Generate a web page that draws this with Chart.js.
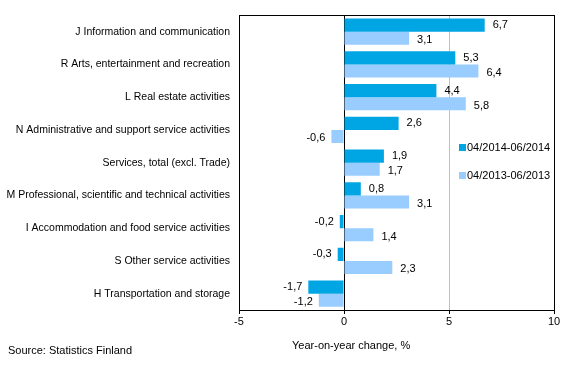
<!DOCTYPE html>
<html>
<head>
<meta charset="utf-8">
<script src="https://cdn.jsdelivr.net/npm/chart.js@4/dist/chart.umd.min.js"></script>
<style>
    html, body { margin: 0; padding: 0; background: #fff; }
    #wrap { width: 569px; height: 374px; position: relative; }
</style>
</head>
<body>
<div id="wrap"><canvas id="chart-services"></canvas></div>
<script>
var categories = [
    "J Information and communication",
    "R Arts, entertainment and recreation",
    "L Real estate activities",
    "N Administrative and support service activities",
    "Services, total (excl. Trade)",
    "M Professional, scientific and technical activities",
    "I Accommodation and food service activities",
    "S Other service activities",
    "H Transportation and storage"
];
var seriesNames = ["04/2014-06/2014", "04/2013-06/2013"];
var values2014 = [6.7, 5.3, 4.4, 2.6, 1.9, 0.8, -0.2, -0.3, -1.7];
var values2013 = [3.1, 6.4, 5.8, -0.6, 1.7, 3.1, 1.4, 2.3, -1.2];
var xTicks = [-5, 0, 5, 10];
var axisTitle = "Year-on-year change, %";
var sourceText = "Source: Statistics Finland";

var FONT = "Liberation Sans, Arial, sans-serif";

function fmt(v) {
    return v.toFixed(1).replace(".", ",");
}

// value labels next to bars, legend, frame, titles
var decorations = {
    id: "decorations",
    afterDatasetsDraw: function (chart) {
        var ctx = chart.ctx;
        var area = chart.chartArea;
        ctx.save();
        ctx.font = "11px " + FONT;
        ctx.fillStyle = "#000";
        ctx.textBaseline = "middle";

        chart.data.datasets.forEach(function (ds, i) {
            var meta = chart.getDatasetMeta(i);
            meta.data.forEach(function (bar, j) {
                var v = ds.data[j];
                var dy = i === 1 ? 2 : 0;
                if (v >= 0) {
                    ctx.textAlign = "left";
                    ctx.fillText(fmt(v), bar.x + 8, bar.y + dy);
                } else {
                    ctx.textAlign = "right";
                    ctx.fillText(fmt(v), bar.x - 6, bar.y + dy);
                }
            });
        });

        // frame
        ctx.strokeStyle = "#000";
        ctx.lineWidth = 1;
        ctx.strokeRect(Math.round(area.left) + 0.5, Math.round(area.top) + 0.5,
            Math.round(area.right - area.left), Math.round(area.bottom - area.top));

        // legend inside plot
        var lx = 459, ly = [147, 175];
        chart.data.datasets.forEach(function (ds, i) {
            ctx.fillStyle = ds.backgroundColor;
            ctx.fillRect(lx, ly[i] - 3, 7, 7);
            ctx.fillStyle = "#000";
            ctx.textAlign = "left";
            ctx.fillText(ds.label, lx + 8, ly[i] + 1);
        });

        // axis title and source
        ctx.textAlign = "left";
        ctx.fillText(axisTitle, 292, 346);
        ctx.fillText(sourceText, 8, 351);
        ctx.restore();
    }
};

new Chart(document.getElementById("chart-services"), {
    type: "bar",
    data: {
        labels: categories,
        datasets: [{
            label: seriesNames[0],
            data: values2014,
            backgroundColor: "#00A5E3"
        }, {
            label: seriesNames[1],
            data: values2013,
            backgroundColor: "#99CCFF"
        }]
    },
    options: {
        indexAxis: "y",
        responsive: true,
        maintainAspectRatio: false,
        animation: false,
        categoryPercentage: 0.8,
        barPercentage: 1.0,
        layout: {
            padding: {top: 15, right: 15, left: 0, bottom: 0}
        },
        plugins: {
            legend: {display: false},
            tooltip: {enabled: false}
        },
        scales: {
            x: {
                min: xTicks[0],
                max: xTicks[xTicks.length - 1],
                afterBuildTicks: function (scale) {
                    scale.ticks = xTicks.map(function (v) { return {value: v}; });
                },
                afterFit: function (scale) {
                    scale.height = 64;
                },
                grid: {
                    color: function (c) {
                        return c.tick && c.tick.value === 5 ? "#c0c0c0" : "#000";
                    },
                    tickColor: "#000",
                    tickLength: 4,
                    drawTicks: true
                },
                border: {color: "#000"},
                ticks: {
                    color: "#000",
                    padding: 1,
                    font: {family: FONT, size: 11}
                }
            },
            y: {
                afterFit: function (scale) {
                    scale.width = 239;
                },
                grid: {display: false, drawTicks: false},
                border: {color: "#000"},
                ticks: {
                    color: "#000",
                    padding: 9,
                    autoSkip: false,
                    font: {family: FONT, size: 10.5}
                }
            }
        }
    },
    plugins: [decorations]
});
</script>
</body>
</html>
